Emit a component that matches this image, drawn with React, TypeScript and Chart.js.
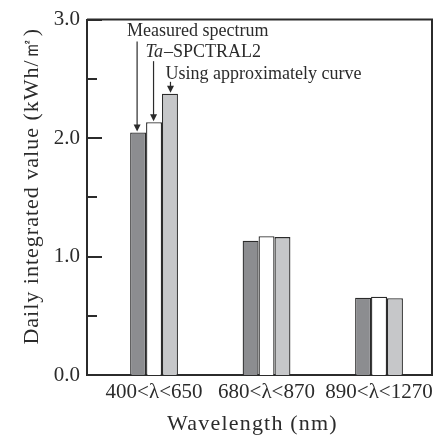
import React, { useEffect, useRef } from "react";
import { Chart, registerables } from "chart.js";

Chart.register(...registerables);

const categories = ["400<λ<650", "680<λ<870", "890<λ<1270"];
const measured = [2.047, 1.133, 0.653];
const spctral2 = [2.133, 1.172, 0.661];
const approxCurve = [2.375, 1.164, 0.648];
const yTicks = [0, 1, 2, 3];
const yMinorTicks = [0.5, 1.5, 2.5];
const xTitle = "Wavelength (nm)";
const yTitle = "Daily integrated value (kWh/\u33A1)";

const SERIF = '"Liberation Serif", Tinos, serif';
const INK = "#2b2b2b";

const framePlugin = {
  id: "frameAndNotes",
  afterDraw(chart: any) {
    const ctx = chart.ctx;
    const { left, right, top, bottom } = chart.chartArea;
    const ys = chart.scales.y;
    ctx.save();
    ctx.strokeStyle = INK;
    ctx.lineWidth = 2;
    ctx.beginPath();
    ctx.moveTo(left, top);
    ctx.lineTo(right, top);
    ctx.lineTo(right, bottom);
    ctx.stroke();
    yTicks.forEach((v) => {
      const y = Math.round(ys.getPixelForValue(v));
      ctx.beginPath();
      ctx.moveTo(left, y);
      ctx.lineTo(left + 15, y);
      ctx.stroke();
    });
    yMinorTicks.forEach((v) => {
      const y = Math.round(ys.getPixelForValue(v));
      ctx.beginPath();
      ctx.moveTo(left, y);
      ctx.lineTo(left + 10, y);
      ctx.stroke();
    });

    // annotations
    const b0 = chart.getDatasetMeta(0).data[0];
    const b1 = chart.getDatasetMeta(1).data[0];
    const b2 = chart.getDatasetMeta(2).data[0];
    ctx.fillStyle = INK;
    ctx.textBaseline = "alphabetic";
    ctx.textAlign = "left";
    const fs = 18;
    const base1 = ys.getPixelForValue(2.858);
    const base2 = ys.getPixelForValue(2.683);
    const base3 = ys.getPixelForValue(2.5);
    ctx.font = `${fs}px ${SERIF}`;
    ctx.fillText("Measured spectrum", b0.x - 11, base1);
    ctx.font = `italic ${fs}px ${SERIF}`;
    const tx = b1.x - 8.5;
    ctx.fillText("Ta", tx, base2);
    const tw = ctx.measureText("Ta").width;
    ctx.font = `${fs}px ${SERIF}`;
    ctx.fillText("\u2013SPCTRAL2", tx + tw + 1, base2);
    ctx.fillText("Using approximately curve", b2.x - 4.5, base3);

    const arrow = (x: number, y0: number, y1: number) => {
      ctx.strokeStyle = INK;
      ctx.lineWidth = 1.2;
      ctx.beginPath();
      ctx.moveTo(x, y0);
      ctx.lineTo(x, y1 - 6);
      ctx.stroke();
      ctx.beginPath();
      ctx.moveTo(x - 3.5, y1 - 8);
      ctx.lineTo(x + 3.5, y1 - 8);
      ctx.lineTo(x, y1 - 1);
      ctx.closePath();
      ctx.fill();
    };
    arrow(b0.x - 1, base1 + 5, b0.y);
    arrow(b1.x - 0.5, base2 + 4, b1.y);
    arrow(b2.x + 0.5, base3 + 3, b2.y);
    ctx.restore();

    // axis titles (letter-spaced like the original)
    ctx.save();
    ctx.letterSpacing = "1.2px";
    ctx.font = `22px ${SERIF}`;
    ctx.fillStyle = INK;
    ctx.textAlign = "center";
    ctx.textBaseline = "alphabetic";
    ctx.fillText(xTitle, (left + right) / 2 - 7, 430);
    ctx.restore();

    ctx.save();
    ctx.letterSpacing = "1px";
    ctx.font = `22px ${SERIF}`;
    ctx.fillStyle = INK;
    ctx.textAlign = "center";
    ctx.textBaseline = "middle";
    ctx.translate(32, (top + bottom) / 2 - 11);
    ctx.rotate(-Math.PI / 2);
    ctx.fillText(yTitle, 0, 0);
    ctx.restore();
    ctx.letterSpacing = "0px";
  },
};

export default function App() {
  const ref = useRef<HTMLCanvasElement>(null);
  useEffect(() => {
    document.body.style.margin = "0";
    const canvas = ref.current;
    if (!canvas) return;
    const mk = (arr: number[]) => arr.map((v, i) => ({ x: i, y: v }));
    const common = {
      borderColor: INK,
      borderWidth: 1.3,
      categoryPercentage: 0.425,
      barPercentage: 1.0,
      borderSkipped: "bottom" as const,
    };
    const chart = new Chart(canvas, {
      type: "bar",
      data: {
        datasets: [
          { label: "Measured spectrum", data: mk(measured), backgroundColor: "#8c8d90", ...common },
          { label: "Ta-SPCTRAL2", data: mk(spctral2), backgroundColor: "#ffffff", ...common },
          { label: "Using approximately curve", data: mk(approxCurve), backgroundColor: "#c6c7c9", ...common },
        ],
      },
      plugins: [framePlugin],
      options: {
        animation: false,
        responsive: true,
        maintainAspectRatio: false,
        layout: { padding: { top: 15, right: 16, left: 0, bottom: 0 } },
        plugins: { legend: { display: false }, tooltip: { enabled: false } },
        scales: {
          x: {
            type: "linear",
            offset: false,
            min: -0.596,
            max: 2.471,
            grid: { display: false, drawTicks: false },
            border: { display: true, color: INK, width: 2 },
            afterBuildTicks: (s: any) => {
              s.ticks = categories.map((_, i) => ({ value: i }));
            },
            afterFit: (s: any) => {
              s.height = 64;
            },
            ticks: {
              padding: 5,
              color: INK,
              maxRotation: 0,
              autoSkip: false,
              font: { family: SERIF, size: 21 },
              callback: (v: any) => categories[Math.round(Number(v))] ?? "",
            },
            title: { display: false },
          },
          y: {
            min: 0,
            max: 3,
            afterBuildTicks: (s: any) => {
              s.ticks = yTicks.map((v) => ({ value: v }));
            },
            afterFit: (s: any) => {
              s.width = 87;
            },
            grid: { display: false, drawTicks: false },
            border: { display: true, color: INK, width: 2 },
            ticks: {
              padding: 7,
              color: INK,
              font: { family: SERIF, size: 21 },
              callback: (v: any) => Number(v).toFixed(1),
            },
            title: { display: false },
          },
        },
      },
    });
    return () => chart.destroy();
  }, []);
  return (
    <div style={{ width: 448, height: 439, position: "relative" }}>
      <canvas ref={ref} />
    </div>
  );
}
